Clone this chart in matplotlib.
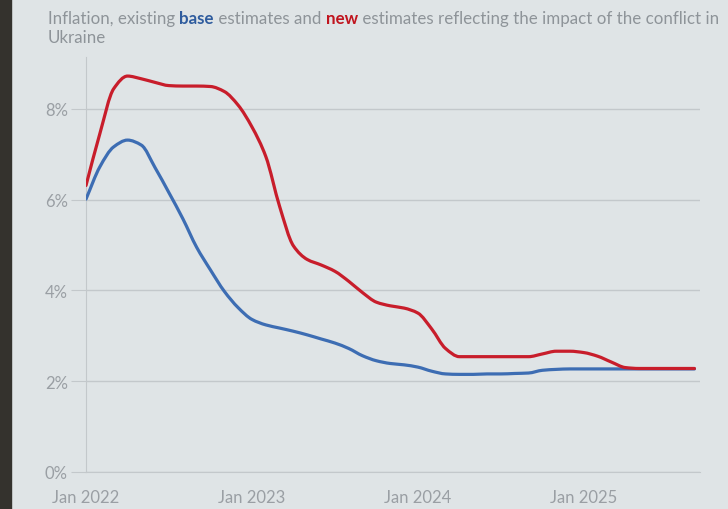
import matplotlib
matplotlib.use("Agg")
import matplotlib.pyplot as plt
from matplotlib.patches import Rectangle, PathPatch
from matplotlib.path import Path

# monthly index, 0 = Jan 2022 ... 44 = Sep 2025
months = list(range(45))

base = [6.01, 6.72, 7.16, 7.31, 7.20, 6.70, 6.15, 5.58, 4.95, 4.45, 3.98, 3.62,
        3.36, 3.24, 3.17, 3.10, 3.02, 2.93, 2.84, 2.72, 2.56, 2.45, 2.39, 2.36,
        2.31, 2.22, 2.16, 2.15, 2.15, 2.16, 2.16, 2.17, 2.18, 2.24, 2.26, 2.27,
        2.27, 2.27, 2.27, 2.27, 2.27, 2.27, 2.27, 2.27, 2.27]

new = [6.31, 7.45, 8.44, 8.72, 8.66, 8.58, 8.51, 8.50, 8.50, 8.49, 8.38, 8.08,
       7.60, 6.95, 5.85, 4.98, 4.68, 4.56, 4.42, 4.20, 3.95, 3.74, 3.66, 3.61,
       3.50, 3.15, 2.72, 2.54, 2.54, 2.54, 2.54, 2.54, 2.54, 2.60, 2.66, 2.66,
       2.63, 2.55, 2.42, 2.30, 2.28, 2.28, 2.28, 2.28, 2.28]

x_ticks = [0, 12, 24, 36]
x_labels = ["Jan 2022", "Jan 2023", "Jan 2024", "Jan 2025"]
y_ticks = [0, 2, 4, 6, 8]
y_labels = ["0%", "2%", "4%", "6%", "8%"]

title_parts = [("Inflation, existing ", "#8e9499", "normal"),
               ("base", "#2f5c9e", "bold"),
               (" estimates and ", "#8e9499", "normal"),
               ("new", "#c0141e", "bold"),
               (" estimates reflecting the impact of the conflict in", "#8e9499", "normal")]
title_line2 = "Ukraine"

bg = "#dfe4e6"
grid_col = "#c3c8cb"
label_col = "#9a9fa4"
font = "Lato"


def monotone_path(xs, ys):
    # smooth curve through the points, like d3's curveMonotoneX
    n = len(xs)
    d = [(ys[i + 1] - ys[i]) / (xs[i + 1] - xs[i]) for i in range(n - 1)]
    m = [d[0]] + [0.0] * (n - 2) + [d[-1]]
    for i in range(1, n - 1):
        if d[i - 1] * d[i] > 0:
            m[i] = 2 / (1 / d[i - 1] + 1 / d[i])
    verts = [(xs[0], ys[0])]
    codes = [Path.MOVETO]
    for i in range(n - 1):
        h = (xs[i + 1] - xs[i]) / 3
        verts += [(xs[i] + h, ys[i] + m[i] * h),
                  (xs[i + 1] - h, ys[i + 1] - m[i + 1] * h),
                  (xs[i + 1], ys[i + 1])]
        codes += [Path.CURVE4] * 3
    return Path(verts, codes)


W, H = 728, 510
fig = plt.figure(figsize=(W / 100, H / 100), dpi=100)
fig.patch.set_facecolor(bg)
# dark screen bezel on the left edge of the photo
fig.patches.append(Rectangle((0, 0), 11 / W, 1, transform=fig.transFigure,
                             color="#34322d", zorder=0))

ax = fig.add_axes([86 / W, 1 - 473 / H, (700 - 86) / W, (473 - 58) / H])
ax.set_facecolor(bg)

for series, col, z in [(base, "#3d6db3", 3), (new, "#c81d2b", 4)]:
    ax.add_patch(PathPatch(monotone_path(months, series), fill=False,
                           edgecolor=col, lw=2.3, capstyle="round",
                           joinstyle="round", zorder=z))

ax.set_xlim(0, 44.4)
ax.set_ylim(0, 9.14)

ax.set_yticks(y_ticks)
ax.set_yticklabels(y_labels)
ax.set_xticks(x_ticks)
ax.set_xticklabels(x_labels)
ax.grid(axis="y", color=grid_col, lw=1)
ax.tick_params(axis="y", length=11, color=grid_col, pad=2, labelcolor=label_col,
               labelsize=12)
ax.tick_params(axis="x", length=0, pad=12, labelcolor=label_col, labelsize=12)
for lab in ax.get_xticklabels() + ax.get_yticklabels():
    lab.set_fontfamily(font)

for side in ["top", "right"]:
    ax.spines[side].set_visible(False)
ax.spines["left"].set_color(grid_col)
ax.spines["bottom"].set_color(grid_col)

# title, drawn in pieces so the key words can be coloured
fig.canvas.draw()
r = fig.canvas.get_renderer()
x = 48
y1 = 1 - 19 / H
for txt, col, wt in title_parts:
    t = fig.text(x / W, y1, txt, color=col, fontweight=wt, fontsize=12.2,
                 family=font, va="center", ha="left")
    x = t.get_window_extent(r).x1
fig.text(48 / W, 1 - 38 / H, title_line2, color="#8e9499", fontsize=12.2,
         family=font, va="center", ha="left")

fig.savefig("out.png", dpi=100, facecolor=bg)
